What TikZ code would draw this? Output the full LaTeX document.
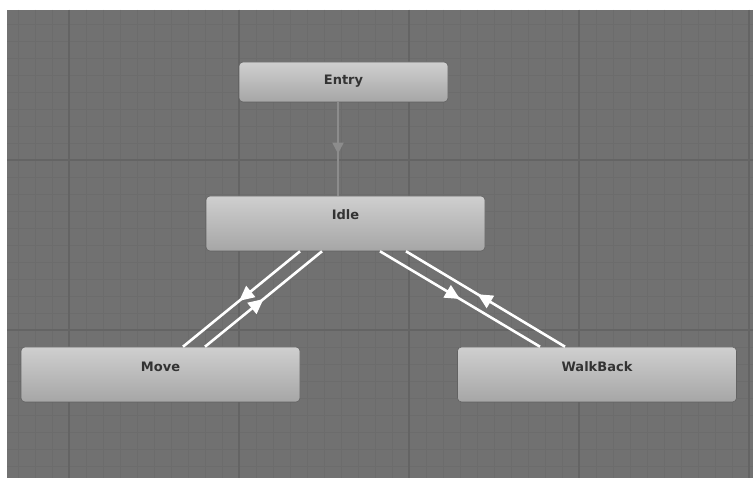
\documentclass[tikz,border=0pt]{standalone}
\usepackage{fontspec}
\setmainfont{DejaVu Sans}
\usetikzlibrary{calc,arrows.meta,decorations.markings}
\definecolor{canvas}{HTML}{717171}
\definecolor{gridminor}{HTML}{6C6C6C}
\definecolor{gridmajor}{HTML}{646464}
\definecolor{statetop}{HTML}{CFCFCF}
\definecolor{statebot}{HTML}{A6A6A6}
\definecolor{stateedge}{HTML}{626262}
\definecolor{labeltext}{HTML}{333333}
\definecolor{entrylink}{HTML}{8C8C8C}
\tikzset{
  statebox/.style={rectangle, rounded corners=4pt, top color=statetop,
    bottom color=statebot, draw=stateedge, line width=0.6pt,
    minimum width=279pt, minimum height=55pt, inner sep=0pt,
    text=labeltext, font=\fontsize{13}{16}\selectfont\bfseries},
  statelabel/.style={text=labeltext, font=\fontsize{13}{16}\selectfont\bfseries},
  transition/.style={draw=white, line width=2.6pt, postaction={decorate},
    decoration={markings, mark=at position #1 with
      {\arrow[white]{Triangle[length=15pt,width=14pt]}}}},
  transition/.default=0.5,
  entrylinkstyle/.style={draw=entrylink, line width=1.8pt, postaction={decorate},
    decoration={markings, mark=at position 0.55 with
      {\arrow[entrylink]{Triangle[length=11pt,width=11pt]}}}}
}
\begin{document}
\begin{tikzpicture}[x=1pt, y=-1pt]
  \useasboundingbox (0,0) rectangle (753,478);
  \fill[white] (0,0) rectangle (753,478);
  % editor canvas
  \fill[canvas] (7,10) rectangle (753,478);
  \begin{scope}
    \clip (7,10) rectangle (753,478);
    \foreach \k in {0,...,44} {
      \draw[gridminor, line width=0.8pt] ({1+17*\k},10) -- ({1+17*\k},478);
    }
    \foreach \k in {0,...,28} {
      \draw[gridminor, line width=0.8pt] (7,{-10+17*\k}) -- (753,{-10+17*\k});
    }
    \foreach \k in {0,...,4} {
      \draw[gridmajor, line width=1.2pt] ({69+170*\k},10) -- ({69+170*\k},478);
    }
    \foreach \k in {0,...,2} {
      \draw[gridmajor, line width=1.2pt] (7,{-10+170*\k}) -- (753,{-10+170*\k});
    }
  \end{scope}

  % states
  \node[statebox, minimum width=209pt, minimum height=40pt] (entry) at (343.5,82) {};
  \node[statebox] (idle) at (345.5,223.5) {};
  \node[statebox] (move) at (160.5,374.5) {};
  \node[statebox] (walkback) at (597,374.5) {};

  % state names sit in the upper part of each box
  \node[statelabel] (entrylabel) at ($(entry.center)+(0,-1)$) {Entry};
  \node[statelabel] (idlelabel) at ($(idle.center)+(0,-9)$) {Idle};
  \node[statelabel] (movelabel) at ($(move.center)+(0,-8)$) {Move};
  \node[statelabel] (walkbacklabel) at ($(walkback.center)+(0,-8)$) {WalkBack};

  % transitions
  \draw[entrylinkstyle] ($(entry.south)+(-5.5,0)$) -- ($(idle.north)+(-7.5,0)$);
  \draw[transition=0.52] ($(idle.south)+(-45.5,0)$) -- ($(move.north)+(22.5,0)$);
  \draw[transition=0.5] ($(move.north)+(44.5,0)$) -- ($(idle.south)+(-23.5,0)$);
  \draw[transition=0.5] ($(idle.south)+(34.5,0)$) -- ($(walkback.north)+(-57,0)$);
  \draw[transition=0.55] ($(walkback.north)+(-32,0)$) -- ($(idle.south)+(60.5,0)$);
\end{tikzpicture}
\end{document}
